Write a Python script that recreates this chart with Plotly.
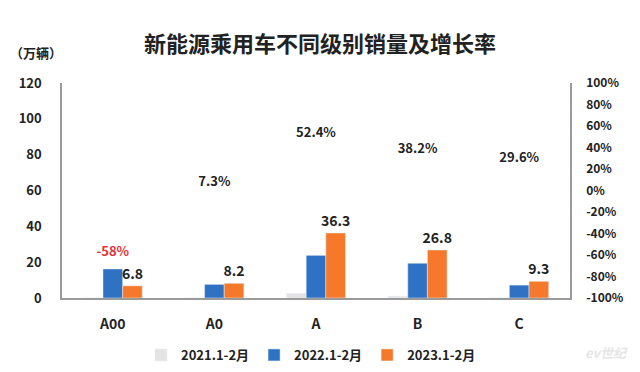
import plotly.graph_objects as go

categories = ["A00", "A0", "A", "B", "C"]
sales_2021 = [0.0, 0.0, 2.5, 1.0, 0.0]
sales_2022 = [16.2, 7.6, 23.8, 19.4, 7.2]
sales_2023 = [6.8, 8.2, 36.3, 26.8, 9.3]
growth = [-58, 7.3, 52.4, 38.2, 29.6]
growth_labels = ["-58%", "7.3%", "52.4%", "38.2%", "29.6%"]
growth_colors = ["#E8313A", "#222222", "#222222", "#222222", "#222222"]
series_names = ["2021.1-2月", "2022.1-2月", "2023.1-2月"]
left_ticks = [0, 20, 40, 60, 80, 100, 120]
right_ticks = [-100, -80, -60, -40, -20, 0, 20, 40, 60, 80, 100]

FONT = "Noto Sans CJK SC, Open Sans, sans-serif"
C_GRAY = "#E4E4E4"
C_BLUE = "#2F72C4"
C_ORANGE = "#F6792B"

# page body has an 8px default margin; size figure so it fills the 640x372 window
OFF = 8
PL, PT, PW, PH = 62, 83, 508, 215  # plot area in window pixels

fig = go.Figure()
fig.add_bar(x=categories, y=sales_2021, name=series_names[0], marker_color=C_GRAY)
fig.add_bar(x=categories, y=sales_2022, name=series_names[1], marker_color=C_BLUE)
fig.add_bar(x=categories, y=sales_2023, name=series_names[2], marker_color=C_ORANGE,
            text=[f"{v:.1f}" for v in sales_2023], textposition="outside",
            constraintext="none",
            textfont=dict(size=14, color="#222222", family=FONT, weight="bold"),
            cliponaxis=False)

fig.add_scatter(x=categories, y=growth, yaxis="y2", mode="text",
                text=growth_labels, textposition="middle center",
                textfont=dict(size=13, color=growth_colors, family=FONT, weight="bold"),
                showlegend=False, hoverinfo="skip", cliponaxis=False)

W, H = 640 - OFF, 372 - OFF
fig.update_layout(
    width=W, height=H,
    margin=dict(l=PL - OFF, r=W - (PL - OFF) - PW, t=PT - OFF, b=H - (PT - OFF) - PH,
                autoexpand=False),
    paper_bgcolor="white", plot_bgcolor="white",
    barmode="group", bargap=0.42, bargroupgap=0,
    font=dict(family=FONT, size=13, color="#222222"),
    xaxis=dict(showline=True, linecolor="#9A9A9A", linewidth=1.5, showgrid=False,
               ticks="", ticklabelstandoff=12,
               tickfont=dict(size=14, family=FONT, weight="bold", color="#222222")),
    yaxis=dict(range=[0, 120], tickvals=left_ticks, showgrid=False, zeroline=False,
               showline=True, linecolor="#9A9A9A", linewidth=1.5,
               ticks="", ticklabelstandoff=16,
               tickfont=dict(size=13, family=FONT, weight="bold", color="#222222")),
    yaxis2=dict(range=[-100, 100], tickvals=right_ticks,
                ticktext=[f"{v}%" for v in right_ticks],
                overlaying="y", side="right", showgrid=False, zeroline=False,
                showline=True, linecolor="#9A9A9A", linewidth=1.5,
                ticks="", ticklabelstandoff=12,
                tickfont=dict(size=12, family=FONT, weight="bold", color="#222222")),
    legend=dict(orientation="h", x=(311 - PL) / PW, xanchor="center",
                y=(PT + PH - 340) / PH, yanchor="top",
                font=dict(size=13, family=FONT, weight="bold", color="#222222"),
                itemwidth=30, traceorder="normal", tracegroupgap=0),
    showlegend=True,
)

def px(x):
    return (x - PL) / PW

def py(y):
    return (PT + PH - y) / PH

fig.add_annotation(text="新能源乘用车不同级别销量及增长率", xref="paper", yref="paper",
                   x=px(320), y=py(42), xanchor="center", yanchor="middle",
                   showarrow=False,
                   font=dict(size=22, family=FONT, weight="bold", color="#222222"))
fig.add_annotation(text="（万辆）", xref="paper", yref="paper",
                   x=px(8), y=py(52), xanchor="left", yanchor="middle",
                   showarrow=False,
                   font=dict(size=13, family=FONT, weight="bold", color="#222222"))
fig.add_annotation(text="<i>ev世纪</i>", xref="paper", yref="paper",
                   x=px(606), y=py(352), xanchor="center", yanchor="middle",
                   showarrow=False,
                   font=dict(size=13, family=FONT, weight="bold", color="#E6E6E6"))

fig.write_html("out.html")
